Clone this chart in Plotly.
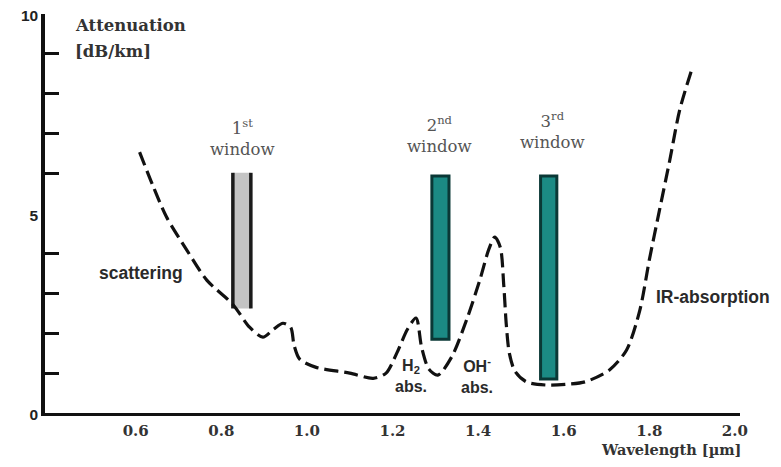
import plotly.graph_objects as go

# attenuation curve (wavelength in µm, attenuation in dB/km)
wavelength = [0.609, 0.640, 0.672, 0.719, 0.766, 0.827, 0.866, 0.897, 0.922, 0.944,
              0.962, 0.970, 0.983, 1.020, 1.100, 1.155, 1.185, 1.210, 1.235, 1.255,
              1.268, 1.285, 1.306, 1.338, 1.373, 1.404, 1.425, 1.439, 1.452, 1.460,
              1.466, 1.473, 1.486, 1.513, 1.560, 1.607, 1.650, 1.707, 1.747, 1.778,
              1.800, 1.824, 1.848, 1.871, 1.899]
attenuation = [6.54, 5.70, 4.91, 4.09, 3.33, 2.72, 2.15, 1.90, 2.10, 2.25,
               2.15, 1.70, 1.35, 1.15, 1.00, 0.87, 1.00, 1.50, 2.10, 2.38,
               1.65, 1.10, 0.95, 1.40, 2.33, 3.33, 4.10, 4.41, 4.15, 3.20,
               2.20, 1.50, 1.05, 0.78, 0.70, 0.72, 0.78, 1.08, 1.58, 2.58,
               3.83, 5.09, 6.34, 7.59, 8.60]

# transmission windows
window_names = ["1<sup>st</sup><br>window", "2<sup>nd</sup><br>window", "3<sup>rd</sup><br>window"]
window_lo = [0.827, 1.292, 1.546]
window_hi = [0.869, 1.332, 1.584]
window_bottom = [2.62, 1.85, 0.85]
window_top = [6.02, 5.94, 5.94]
window_label_x = [0.850, 1.310, 1.574]
window_label_y = [6.90, 6.99, 7.09]

x_ticks = [0.6, 0.8, 1.0, 1.2, 1.4, 1.6, 1.8, 2.0]
x_ticktext = ["0.6", "0.8", "1.0", "1.2", "1.4", "1.6", "1.8", "2.0"]
y_labels = [0, 5, 10]
y_minor = [1, 2, 3, 4, 6, 7, 8, 9, 10]

x_range = [0.388, 2.012]
y_range = [0, 10]

fig = go.Figure()

# windows
for i in range(3):
    if i == 0:
        fig.add_shape(type="rect", xref="x", yref="y", x0=window_lo[i], x1=window_hi[i],
                      y0=window_bottom[i], y1=window_top[i],
                      fillcolor="#c4c4c4", line=dict(width=0), layer="below")
        for xv in (window_lo[i], window_hi[i]):
            fig.add_shape(type="line", xref="x", yref="y", x0=xv, x1=xv,
                          y0=window_bottom[i], y1=window_top[i],
                          line=dict(color="#1a1a1a", width=3.5), layer="below")
    else:
        fig.add_shape(type="rect", xref="x", yref="y", x0=window_lo[i], x1=window_hi[i],
                      y0=window_bottom[i], y1=window_top[i],
                      fillcolor="#1b8a84", line=dict(color="#0a3836", width=3), layer="below")
    fig.add_annotation(x=window_label_x[i], y=window_label_y[i], xref="x", yref="y",
                       text=window_names[i], showarrow=False,
                       font=dict(family="DejaVu Serif", size=16.5, color="#555555"),
                       align="center", xanchor="center", yanchor="middle")

fig.add_trace(go.Scatter(x=wavelength, y=attenuation, mode="lines",
                         line=dict(color="#111111", width=3.2, dash="14px,6px",
                                   shape="spline", smoothing=0.8),
                         hoverinfo="skip", showlegend=False))

# dummy trace for tick overlay axis
fig.add_trace(go.Scatter(x=[wavelength[0]], y=[attenuation[0]], yaxis="y2", mode="none",
                         hoverinfo="skip", showlegend=False))

sans = dict(family="Liberation Sans", size=17.5, color="#2a2a2a")
fig.add_annotation(x=0.612, y=3.51, text="<b>scattering</b>", showarrow=False, font=sans)
fig.add_annotation(x=1.046, xref="paper", y=2.91, text="<b>IR-absorption</b>",
                   showarrow=False, xanchor="right", font=sans)
fig.add_annotation(x=1.243, y=0.93, text="<b>H<sub>2</sub><br>abs.</b>", showarrow=False,
                   font=dict(family="Liberation Sans", size=16, color="#2a2a2a"))
fig.add_annotation(x=1.397, y=0.93, text="<b>OH<sup>-</sup><br>abs.</b>", showarrow=False,
                   font=dict(family="Liberation Sans", size=16, color="#2a2a2a"))
serif_b = dict(family="DejaVu Serif", size=16.5, color="#333333")
fig.add_annotation(x=0.453, y=9.72, text="<b>Attenuation</b>", showarrow=False,
                   xanchor="left", font=serif_b)
fig.add_annotation(x=0.453, y=9.05, text="<b>[dB/km]</b>", showarrow=False,
                   xanchor="left", font=serif_b)
fig.add_annotation(x=1.004, xref="paper", y=-0.092, yref="paper", text="<b>Wavelength [µm]</b>",
                   showarrow=False, xanchor="right", yanchor="middle",
                   font=dict(family="DejaVu Serif", size=14.5, color="#333333"))

# the page body adds an 8px offset; size and margins compensate for it
fig.update_layout(
    width=765, height=451,
    margin=dict(l=37, r=33, t=6, b=46),
    paper_bgcolor="white", plot_bgcolor="white",
    xaxis=dict(range=x_range, showgrid=False, zeroline=False, automargin=False,
               showline=True, linecolor="#111111", linewidth=3,
               tickvals=x_ticks, ticktext=x_ticktext, ticks="",
               ticklabelstandoff=2, ticklabeloverflow="allow",
               tickfont=dict(family="DejaVu Serif", size=15, color="#333333", weight="bold")),
    yaxis=dict(range=y_range, showgrid=False, zeroline=False, automargin=False,
               showline=True, linecolor="#111111", linewidth=3.5,
               tickvals=y_labels, ticktext=["0", "5", "10"], ticks="",
               ticklabeloverflow="allow", ticklabelshift=2,
               tickfont=dict(family="Liberation Sans", size=15.5, color="#222222", weight="bold")),
    yaxis2=dict(range=y_range, overlaying="y", anchor="x", side="left", automargin=False,
                showgrid=False, zeroline=False, showline=False,
                tickvals=y_minor, ticks="inside", ticklen=14, tickwidth=2.5,
                tickcolor="#111111", showticklabels=False),
)

fig.write_html("out.html")
